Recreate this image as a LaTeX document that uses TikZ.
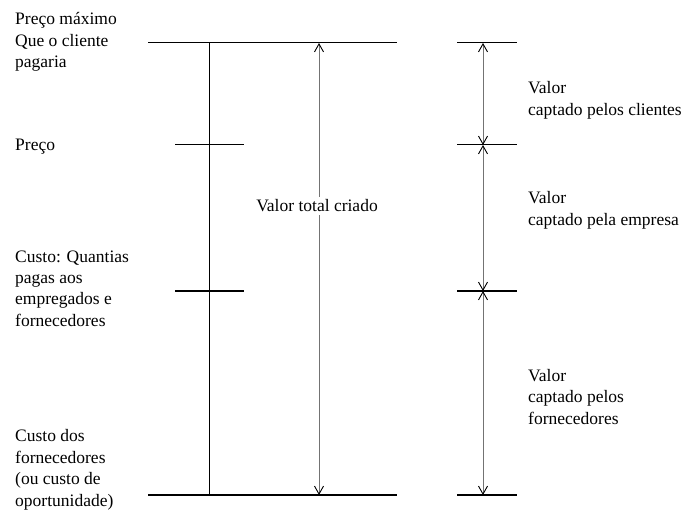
\documentclass[tikz,border=0pt]{standalone}
\usepackage{fontspec}
\setmainfont{Liberation Serif}
\usetikzlibrary{arrows.meta}
\begin{document}
\begin{tikzpicture}[x=1pt,y=-1pt,
  % multi-line labels are placed by the baseline of their last line
  lbl/.style={anchor=base west,align=left,inner sep=0pt,
    font=\fontsize{17.5}{21.5}\selectfont},
  thinrule/.style={line width=1pt},
  thickrule/.style={line width=2pt},
  span/.style={draw=black!55,line width=0.9pt,
    {Straight Barb[length=8pt,width=9pt,black]}-{Straight Barb[length=8pt,width=9pt,black]}},
  vbar/.style={line width=1pt}]
\useasboundingbox (0,0) rectangle (687,510);

% levels on the left scale
\coordinate (topL) at (148,43);  \coordinate (topR) at (397,43);
\coordinate (preL) at (175,145); \coordinate (preR) at (244,145);
\coordinate (cusL) at (175,291); \coordinate (cusR) at (244,291);
\coordinate (botL) at (148,495); \coordinate (botR) at (397,495);
\coordinate (vTop) at (209,43);  \coordinate (vBot) at (209,495);

\draw[thinrule] (topL) -- (topR);
\draw[thinrule] (preL) -- (preR);
\draw[thickrule] (cusL) -- (cusR);
\draw[thickrule] (botL) -- (botR);
\draw[vbar] (vTop) -- (vBot);

% total value arrow
\coordinate (aTop) at (319,43); \coordinate (aBot) at (319,495);
\draw[span] (aTop) -- (aBot);
\node[lbl,anchor=base,fill=white,inner sep=3pt] (total) at (317,212) {Valor total criado};

% right scale
\coordinate (r1L) at (457,43);  \coordinate (r1R) at (517,43);
\coordinate (r2L) at (457,145); \coordinate (r2R) at (517,145);
\coordinate (r3L) at (457,291); \coordinate (r3R) at (517,291);
\coordinate (r4L) at (457,495); \coordinate (r4R) at (517,495);
\draw[thinrule] (r1L) -- (r1R);
\draw[thinrule] (r2L) -- (r2R);
\draw[thickrule] (r3L) -- (r3R);
\draw[thickrule] (r4L) -- (r4R);

\coordinate (s1) at (483,43);
\coordinate (s2) at (483,145);
\coordinate (s3) at (483,291);
\coordinate (s4) at (483,495);
\draw[span] (s1) -- (s2);
\draw[span] (s2) -- (s3);
\draw[span] (s3) -- (s4);

% left labels
\node[lbl] (lmax) at (15,68) {Preço máximo\\Que o cliente\\pagaria};
\node[lbl] (lpre) at (15,151) {Preço};
\node[lbl] (lcus) at (15,326.5) {Custo: Quantias\\pagas aos\\empregados e\\fornecedores};
\node[lbl] (lfor) at (15,506) {Custo dos\\fornecedores\\(ou custo de\\oportunidade)};

% right labels
\node[lbl] (rcli) at (528,115.5) {Valor\\captado pelos clientes};
\node[lbl] (remp) at (528,225.5) {Valor\\captado pela empresa};
\node[lbl] (rfor) at (528,424) {Valor\\captado pelos\\fornecedores};
\end{tikzpicture}
\end{document}
